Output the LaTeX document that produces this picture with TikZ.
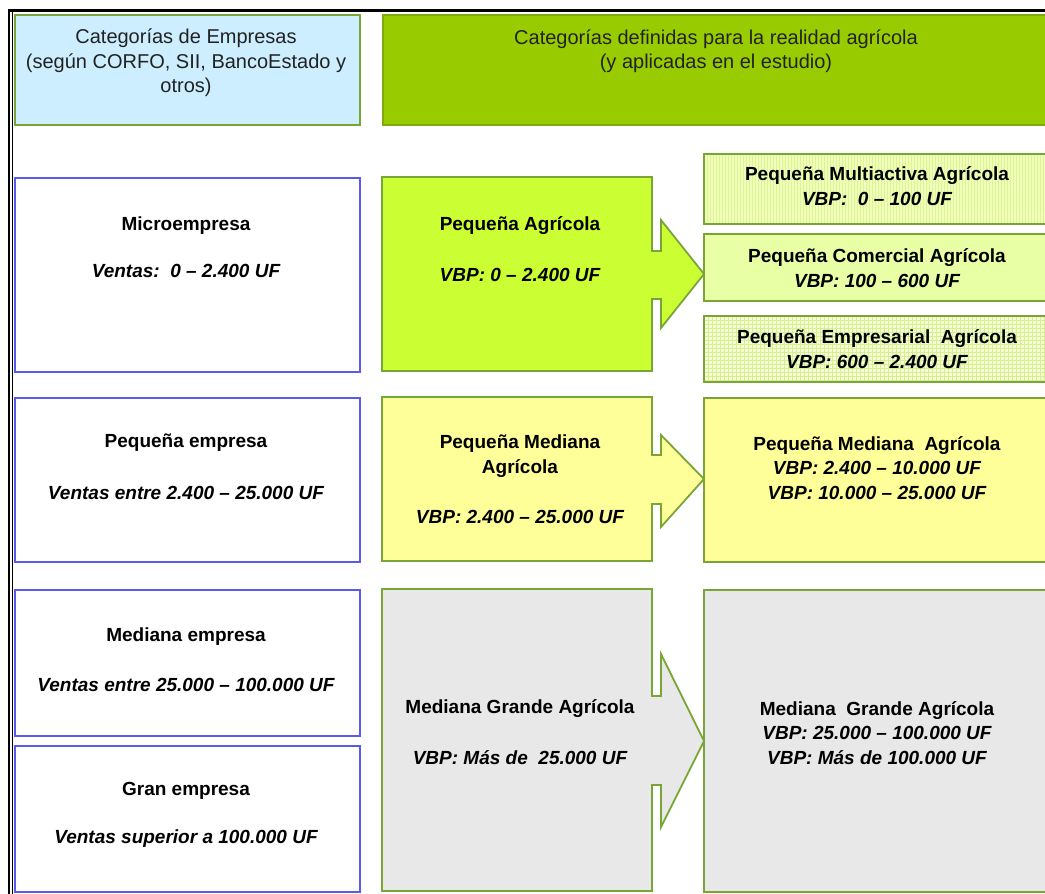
\documentclass[tikz,border=0pt]{standalone}
\usepackage{fontspec}
\setmainfont{Liberation Sans}
\definecolor{lblue}{HTML}{5A5AF0}
\definecolor{bgreen}{HTML}{78A535}
\definecolor{hblue}{HTML}{CCEEFF}
\definecolor{hgreen}{HTML}{99CC00}
\definecolor{hgreenb}{HTML}{7FAA10}
\definecolor{lime}{HTML}{CCFF33}
\definecolor{pyellow}{HTML}{FFFF99}
\definecolor{pgrey}{HTML}{E8E8E8}
\definecolor{multi}{HTML}{F0FFB8}
\definecolor{multil}{HTML}{E0F39A}
\definecolor{comer}{HTML}{E8FFA6}
\definecolor{empre}{HTML}{F4FFD6}
\definecolor{emprel}{HTML}{D8EE90}
\definecolor{htext}{HTML}{222222}
\begin{document}
\begin{tikzpicture}[x=1pt,y=-1pt,
  lbox/.style={draw=lblue, line width=1.6pt, fill=white, inner sep=0pt, anchor=north west},
  rbox/.style={draw=bgreen, line width=1.8pt, inner sep=0pt, anchor=north west},
  hdr/.style={font=\fontsize{20}{24.5}\selectfont, text=htext, align=center, inner sep=0pt},
  ttl/.style={font=\fontsize{19}{24.5}\selectfont\bfseries, align=center, inner sep=0pt},
  val/.style={font=\fontsize{19}{24.5}\selectfont\bfseries\itshape, align=center, inner sep=0pt},
  arrowbox/.style={draw=bgreen, line width=1.8pt, line join=miter}
]
\useasboundingbox (0,0) rectangle (1045,894);
\clip (0,0) rectangle (1045,894);

% outer frame
\draw[line width=2.4pt] (9,900) -- (9,10.5) -- (1050,10.5);
\draw[line width=1pt] (12.8,900) -- (12.8,12);

% headers
\node[rbox, draw=bgreen, fill=hblue, minimum width=345, minimum height=110] (hl) at (14,14) {};
\node[rbox, draw=hgreenb, fill=hgreen, minimum width=680, minimum height=110] (hr) at (382,14) {};
\node[hdr] (hlt) at (186,63) {Categorías de Empresas\\(según CORFO, SII, BancoEstado y\\otros)};
\node[hdr] (hrt) at (716,51) {Categorías definidas para la realidad agrícola\\(y aplicadas en el estudio)};

% left column
\node[lbox, minimum width=345, minimum height=194] (micro) at (14,177) {};
\node[lbox, minimum width=345, minimum height=164] (peq) at (14,397) {};
\node[lbox, minimum width=345, minimum height=146] (med) at (14,589) {};
\node[lbox, minimum width=345, minimum height=146] (gran) at (14,745) {};
\node[ttl] (microT) at (186,226) {Microempresa};
\node[val] (microV) at (186,271) {Ventas:\ \ 0 – 2.400 UF};
\node[ttl] (peqT) at (186,443) {Pequeña empresa};
\node[val] (peqV) at (186,493) {Ventas entre 2.400 – 25.000 UF};
\node[ttl] (medT) at (186,637) {Mediana empresa};
\node[val] (medV) at (186,685) {Ventas entre 25.000 – 100.000 UF};
\node[ttl] (granT) at (186,791) {Gran empresa};
\node[val] (granV) at (186,839) {Ventas superior a 100.000 UF};

% middle arrow boxes
\draw[arrowbox, fill=lime] (382,177) -- (652,177) -- (652,251) -- (661,251) -- (661,220) -- (704,274) -- (661,328) -- (661,299) -- (652,299) -- (652,371) -- (382,371) -- cycle;
\draw[arrowbox, fill=pyellow] (382,397) -- (652,397) -- (652,455) -- (661,455) -- (661,435) -- (704,479) -- (661,527) -- (661,504) -- (652,504) -- (652,561) -- (382,561) -- cycle;
\draw[arrowbox, fill=pgrey] (382,589) -- (652,589) -- (652,696) -- (661,696) -- (661,654) -- (704,741) -- (661,827) -- (661,785) -- (652,785) -- (652,891) -- (382,891) -- cycle;
\node[ttl] (paT) at (520,226) {Pequeña Agrícola};
\node[val] (paV) at (520,275) {VBP: 0 – 2.400 UF};
\node[ttl] (pmT) at (520,456) {Pequeña Mediana\\Agrícola};
\node[val] (pmV) at (520,517) {VBP: 2.400 – 25.000 UF};
\node[ttl] (mgT) at (520,709) {Mediana Grande Agrícola};
\node[val] (mgV) at (520,758) {VBP: Más de\ \ 25.000 UF};

% right boxes
\fill[multi] (703,153) rectangle (1055,223);
\begin{scope}
\clip (703,153) rectangle (1055,223);
\foreach \i in {0,...,117} {\draw[multil, line width=0.8pt] (704+3*\i,153) -- (704+3*\i,223);}
\end{scope}
\node[rbox, minimum width=352, minimum height=70] (multiB) at (703,153) {};
\node[rbox, fill=comer, minimum width=352, minimum height=67] (comB) at (703,233) {};
\fill[empre] (703,315) rectangle (1055,381);
\begin{scope}
\clip (703,315) rectangle (1055,381);
\foreach \i in {0,...,88} {\draw[emprel, line width=0.7pt] (704+4*\i,315) -- (704+4*\i,381);}
\foreach \j in {0,...,17} {\draw[emprel, line width=0.7pt] (703,316+4*\j) -- (1055,316+4*\j);}
\end{scope}
\node[rbox, minimum width=352, minimum height=66] (empB) at (703,315) {};
\node[rbox, fill=pyellow, minimum width=352, minimum height=164] (pmR) at (703,397) {};
\node[rbox, fill=pgrey, minimum width=352, minimum height=302] (mgR) at (703,589) {};

\node[ttl] (multiT) at (877,186) {Pequeña Multiactiva Agrícola\\\itshape VBP:\ \ 0 – 100 UF};
\node[ttl] (comT) at (877,268) {Pequeña Comercial Agrícola\\\itshape VBP: 100 – 600 UF};
\node[ttl] (empT) at (877,349) {Pequeña Empresarial\ \ Agrícola\\\itshape VBP: 600 – 2.400 UF};
\node[ttl] (pmRT) at (877,468) {Pequeña Mediana\ \ Agrícola\\\itshape VBP: 2.400 – 10.000 UF\\\itshape VBP: 10.000 – 25.000 UF};
\node[ttl] (mgRT) at (877,733) {Mediana\ \ Grande Agrícola\\\itshape VBP: 25.000 – 100.000 UF\\\itshape VBP: Más de 100.000 UF};
\end{tikzpicture}
\end{document}
